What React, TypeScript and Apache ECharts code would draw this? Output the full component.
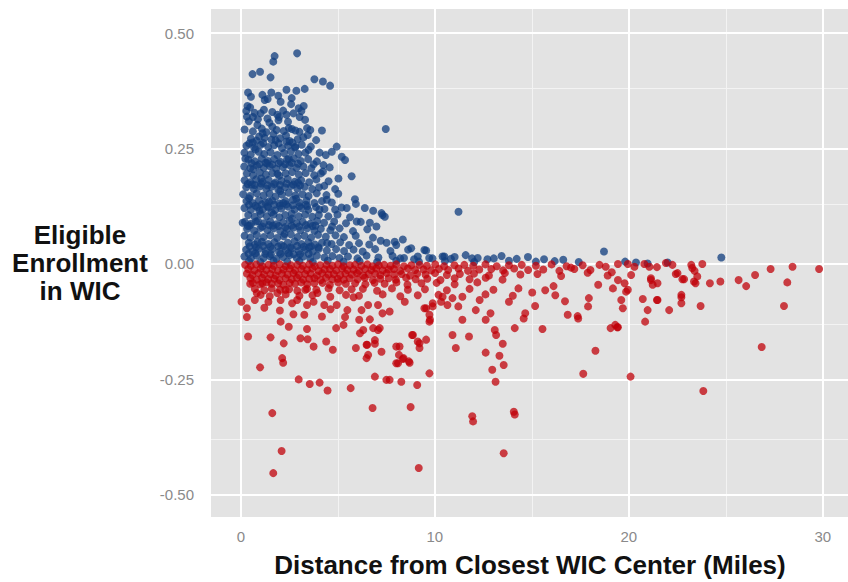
import React, { useEffect, useRef } from "react";
import * as echarts from "echarts";

const xTicks = [0, 10, 20, 30];
const xMinor = [5, 15, 25];
const yTicks = [-0.5, -0.25, 0, 0.25, 0.5];
const yMinor = [-0.375, -0.125, 0.125, 0.375];
const xTitle = "Distance from Closest WIC Center (Miles)";
const yTitle = "Eligible\nEnrollment\nin WIC";

const blueSparse: [number, number][] = [
  [2.90,0.456],[1.74,0.450],[1.67,0.438],[0.60,0.411],[0.99,0.416],[1.53,0.404],[3.79,0.400],[4.23,0.395],[4.60,0.386],
  [0.37,0.371],[2.35,0.377],[2.86,0.375],[3.29,0.379],[1.11,0.366],[1.57,0.371],[1.23,0.355],[0.34,0.342],[0.48,0.339],
  [2.05,0.351],[2.59,0.346],[2.98,0.337],[3.24,0.342],[0.31,0.319],[1.02,0.326],[1.37,0.315],[1.88,0.323],[2.35,0.323],
  [3.03,0.318],[7.47,0.292],[4.18,0.289],[3.41,0.294],[3.45,0.279],[0.85,0.301],[1.62,0.297],[2.47,0.294],[2.81,0.289],
  [0.43,0.261],[0.94,0.276],[1.79,0.268],[2.35,0.265],[2.81,0.254],[4.94,0.254],[4.69,0.243],[4.06,0.241],[3.49,0.247],
  [5.20,0.232],[5.37,0.225],[3.75,0.216],[4.26,0.214],[4.23,0.200],[5.71,0.190],[5.03,0.185],[4.30,0.169],[4.86,0.162],
  [4.43,0.139],[5.88,0.140],[5.93,0.130],[4.86,0.118],[5.46,0.121],[6.39,0.121],[6.82,0.115],[7.30,0.106],[11.22,0.113],
  [5.97,0.092],[6.65,0.089],[6.99,0.081],[7.21,0.050],[7.93,0.048],[8.35,0.053],[8.78,0.034],[9.55,0.029],[10.49,0.016],
  [11.59,0.019],[13.04,0.012],[0.09,0.089],[7.25,0.110],[7.42,0.102],[8.01,0.041],[9.46,0.030],[10.40,0.016],[13.44,0.017],
  [14.80,0.015],[16.62,0.009],[18.72,0.027],[24.77,0.014],[22.0,0.003],[20.97,0.001],[20.37,0.003],
  [0.64,0.205],[1.05,0.185],[1.45,0.135],[0.95,0.115],[1.65,0.083],[2.25,0.065],[0.36,0.082],[0.86,0.048],[1.26,0.022],
  [1.92,0.038],[2.72,0.021],[3.51,0.036],[0.57,0.172],[1.35,0.218],[2.03,0.158],[2.95,0.176],[3.42,0.125],[2.63,0.098],
  [3.85,0.083],[4.45,0.045],[0.23,0.228],[0.75,0.248],[1.12,0.283],[1.68,0.281],[2.33,0.278],[1.97,0.318],[0.62,0.318],
  [2.47,0.228],[4.05,0.118],[4.70,0.081],[0.42,0.142],[1.58,0.112],[2.18,0.132],[0.78,0.092],[1.89,0.195],[2.86,0.141]
];

const blueFill: [number, number][] = [
  [0.55,0.218],[0.95,0.216],[1.28,0.219],[1.62,0.215],[1.95,0.218],[2.28,0.216],[2.62,0.219],[2.95,0.217],
  [0.35,0.173],[0.72,0.171],[1.05,0.174],[1.38,0.170],[1.72,0.173],[2.02,0.171],[2.36,0.174],[2.70,0.172],[3.05,0.170],
  [0.42,0.128],[0.75,0.126],[1.08,0.129],[1.38,0.125],[1.72,0.128],[2.02,0.126],[2.35,0.129],[2.68,0.127],[3.02,0.125],[3.35,0.128],
  [0.45,0.083],[1.10,0.081],[1.45,0.084],[1.95,0.082],[2.30,0.080],[2.62,0.083],[3.00,0.081],[3.35,0.084],[3.70,0.082],
  [0.45,0.038],[0.78,0.036],[1.15,0.039],[1.52,0.037],[2.20,0.038],[2.55,0.036],[2.90,0.039],[3.25,0.037],[3.62,0.038],[4.00,0.036],
  [0.62,0.263],[1.15,0.262],[1.95,0.261],[2.65,0.263],
  [0.40,0.022],[0.75,0.023],[1.55,0.021],[2.05,0.022],[2.45,0.023],[3.05,0.021],[3.50,0.022]
];

const blueCore: [number, number][] = [
  [0.52,0.362],[1.38,0.357],[1.93,0.364],[2.62,0.359],
  [0.28,0.331],[0.71,0.327],[1.19,0.334],[1.62,0.329],[2.18,0.332],[2.71,0.326],[3.12,0.331],
  [0.41,0.309],[0.88,0.313],[1.47,0.306],[1.94,0.311],[2.43,0.308],[3.31,0.312],
  [0.19,0.291],[0.62,0.287],[1.08,0.293],[1.31,0.285],[1.84,0.290],[2.21,0.288],[2.63,0.292],[3.02,0.286],[3.58,0.290],
  [0.52,0.271],[0.81,0.267],[1.22,0.273],[1.58,0.269],[2.02,0.272],[2.51,0.266],[2.93,0.270],[3.22,0.274],[3.88,0.268],
  [0.29,0.256],[0.68,0.252],[1.03,0.258],[1.41,0.253],[1.72,0.257],[2.12,0.251],[2.44,0.256],[2.79,0.252],[3.14,0.258],[3.61,0.254],
  [0.18,0.241],[0.51,0.237],[0.92,0.243],[1.21,0.238],[1.53,0.242],[1.88,0.236],[2.23,0.240],[2.58,0.244],[2.97,0.238],[3.32,0.241],[4.38,0.236],
  [0.38,0.226],[0.72,0.222],[1.07,0.228],[1.39,0.223],[1.71,0.227],[2.04,0.221],[2.38,0.226],[2.73,0.229],[3.09,0.223],[3.47,0.227],[3.92,0.222],
  [0.17,0.211],[0.49,0.207],[0.83,0.213],[1.18,0.208],[1.49,0.212],[1.82,0.206],[2.17,0.210],[2.51,0.214],[2.86,0.208],[3.22,0.211],[3.63,0.207],[4.58,0.209],
  [0.31,0.196],[0.63,0.192],[0.98,0.198],[1.29,0.193],[1.62,0.197],[1.97,0.191],[2.31,0.196],[2.64,0.199],[2.99,0.193],[3.34,0.197],[3.78,0.192],[4.12,0.196],
  [0.19,0.181],[0.48,0.177],[0.79,0.183],[1.12,0.178],[1.43,0.182],[1.77,0.176],[2.09,0.180],[2.42,0.184],[2.78,0.178],[3.11,0.181],[3.52,0.177],[3.89,0.183],[4.52,0.179],
  [0.28,0.166],[0.67,0.162],[0.99,0.168],[1.31,0.163],[1.58,0.167],[1.93,0.161],[2.27,0.166],[2.59,0.169],[2.91,0.163],[3.29,0.167],[3.68,0.162],[4.03,0.166],
  [0.12,0.151],[0.47,0.147],[0.82,0.153],[1.17,0.148],[1.48,0.152],[1.79,0.146],[2.12,0.150],[2.47,0.154],[2.81,0.148],[3.18,0.151],[3.49,0.147],[3.91,0.153],[4.41,0.149],[5.02,0.152],
  [0.29,0.136],[0.61,0.132],[0.93,0.138],[1.27,0.133],[1.62,0.137],[1.98,0.131],[2.31,0.136],[2.68,0.139],[3.01,0.133],[3.38,0.137],[3.79,0.132],[4.18,0.136],[4.69,0.133],
  [0.18,0.121],[0.52,0.117],[0.84,0.123],[1.13,0.118],[1.42,0.122],[1.77,0.116],[2.08,0.120],[2.43,0.124],[2.77,0.118],[3.12,0.121],[3.48,0.117],[3.87,0.123],[4.31,0.119],[5.19,0.122],
  [0.38,0.106],[0.71,0.102],[1.02,0.108],[1.33,0.103],[1.68,0.107],[1.99,0.101],[2.29,0.106],[2.62,0.109],[2.98,0.103],[3.31,0.107],[3.68,0.102],[4.02,0.106],[4.51,0.103],[4.98,0.107],[5.63,0.101],
  [0.21,0.091],[0.53,0.087],[0.88,0.093],[1.19,0.088],[1.51,0.092],[1.83,0.086],[2.17,0.090],[2.52,0.094],[2.88,0.088],[3.19,0.091],[3.58,0.087],[3.93,0.093],[4.29,0.089],[4.81,0.092],[5.42,0.088],[6.18,0.091],
  [0.32,0.076],[0.68,0.072],[1.01,0.078],[1.37,0.073],[1.69,0.077],[2.03,0.071],[2.38,0.076],[2.71,0.079],[3.07,0.073],[3.42,0.077],[3.79,0.072],[4.12,0.076],[4.61,0.073],[5.09,0.077],[5.78,0.071],[6.52,0.075],
  [0.19,0.061],[0.49,0.057],[0.82,0.063],[1.18,0.058],[1.52,0.062],[1.87,0.056],[2.21,0.060],[2.58,0.064],[2.92,0.058],[3.28,0.061],[3.62,0.057],[3.98,0.063],[4.38,0.059],[4.88,0.062],[5.31,0.058],[5.92,0.061],[6.81,0.057],
  [0.41,0.046],[0.72,0.042],[1.08,0.048],[1.41,0.043],[1.73,0.047],[2.08,0.041],[2.42,0.046],[2.77,0.049],[3.12,0.043],[3.48,0.047],[3.82,0.042],[4.18,0.046],[4.68,0.043],[5.12,0.047],[5.58,0.041],[6.09,0.045],[6.62,0.042],[7.51,0.046],
  [0.27,0.031],[0.61,0.027],[0.93,0.033],[1.28,0.028],[1.62,0.032],[1.97,0.026],[2.32,0.030],[2.63,0.034],[2.98,0.028],[3.33,0.031],[3.71,0.027],[4.02,0.033],[4.43,0.029],[4.91,0.032],[5.32,0.028],[5.81,0.031],[6.28,0.027],[6.92,0.032],[7.71,0.028],[8.62,0.031],
  [0.18,0.016],[0.52,0.012],[0.81,0.018],[1.17,0.013],[1.49,0.017],[1.83,0.011],[2.18,0.015],[2.52,0.019],[2.88,0.013],[3.21,0.016],[3.58,0.012],[3.92,0.018],[4.31,0.014],[4.72,0.017],[5.08,0.013],[5.52,0.016],[6.01,0.012],[6.48,0.018],[7.09,0.014],[7.82,0.017],[8.41,0.013],[9.12,0.016],[9.88,0.012],[11.02,0.015],[12.21,0.013],
  [0.42,0.006],[1.01,0.004],[1.68,0.007],[2.39,0.005],[3.02,0.006],[3.71,0.004],[4.48,0.007],[5.29,0.005],[6.12,0.006],[7.02,0.004],[8.01,0.007],[9.18,0.005],[10.52,0.006],[12.03,0.004],[13.82,0.007],[15.21,0.005],[16.18,0.006],[17.42,0.004],[19.81,0.005],
  [8.21,0.012],[8.93,0.010],[9.71,0.013],[10.83,0.011],[11.92,0.012],[12.71,0.010],[14.22,0.011],[15.63,0.010]
];

const redBand: [number, number][] = [
  [0.22,-0.002],[0.51,-0.004],[0.79,-0.001],[1.11,-0.005],[1.42,-0.002],[1.69,-0.004],[2.01,-0.001],[2.31,-0.005],[2.58,-0.003],[2.91,-0.002],
  [3.19,-0.004],[3.52,-0.001],[3.81,-0.005],[4.09,-0.003],[4.41,-0.002],[4.72,-0.004],[5.01,-0.001],[5.29,-0.005],[5.62,-0.003],[5.89,-0.002],
  [6.21,-0.004],[6.52,-0.001],[6.79,-0.005],[7.11,-0.003],[7.39,-0.002],[7.72,-0.004],[8.01,-0.001],[8.41,-0.005],[8.79,-0.003],[9.21,-0.002],
  [9.59,-0.004],[10.02,-0.001],[10.48,-0.005],[11.01,-0.003],[11.52,-0.002],[11.98,-0.004],[12.61,-0.001],[13.19,-0.005],[13.82,-0.003],[14.48,-0.002],
  [15.21,-0.004],[16.02,-0.001],[16.79,-0.005],[17.62,-0.003],[18.49,-0.002],
  [0.38,-0.011],[0.69,-0.014],[1.02,-0.010],[1.31,-0.013],[1.62,-0.011],[1.91,-0.015],[2.19,-0.012],[2.52,-0.010],[2.79,-0.014],[3.12,-0.011],
  [3.41,-0.013],[3.69,-0.010],[4.01,-0.015],[4.32,-0.012],[4.59,-0.011],[4.91,-0.014],[5.22,-0.010],[5.49,-0.013],[5.81,-0.012],[6.09,-0.015],
  [6.41,-0.011],[6.72,-0.013],[6.98,-0.010],[7.31,-0.014],[7.62,-0.012],[7.89,-0.011],[8.22,-0.015],[8.61,-0.010],[8.98,-0.013],[9.42,-0.012],
  [9.81,-0.014],[10.21,-0.011],[10.69,-0.013],[11.22,-0.010],[11.71,-0.015],[12.29,-0.012],[12.91,-0.011],[13.52,-0.014],[14.09,-0.010],[14.81,-0.013],
  [15.59,-0.012],[16.42,-0.015],[17.19,-0.011],[18.02,-0.013],
  [0.31,-0.021],[0.59,-0.024],[0.91,-0.020],[1.19,-0.023],[1.52,-0.022],[1.79,-0.025],[2.12,-0.021],[2.41,-0.023],[2.71,-0.020],[2.99,-0.024],
  [3.31,-0.022],[3.59,-0.021],[3.92,-0.025],[4.19,-0.020],[4.52,-0.023],[4.79,-0.022],[5.12,-0.024],[5.39,-0.021],[5.72,-0.023],[5.99,-0.020],
  [6.31,-0.025],[6.59,-0.022],[6.92,-0.021],[7.19,-0.024],[7.52,-0.020],[7.91,-0.023],[8.29,-0.022],[8.72,-0.025],[9.09,-0.021],[9.52,-0.023],
  [10.01,-0.020],[10.62,-0.024],[11.29,-0.022],[12.02,-0.021],[12.79,-0.025],[13.61,-0.020],[14.41,-0.023],[15.29,-0.022],
  [0.49,-0.031],[0.82,-0.034],[1.09,-0.030],[1.41,-0.033],[1.72,-0.032],[1.99,-0.035],[2.31,-0.031],[2.62,-0.033],[2.89,-0.030],[3.21,-0.034],
  [3.52,-0.032],[3.79,-0.031],[4.12,-0.035],[4.39,-0.030],[4.71,-0.033],[4.99,-0.032],[5.31,-0.034],[5.61,-0.031],[6.02,-0.033],[6.39,-0.030],
  [6.81,-0.035],[7.19,-0.032],[7.62,-0.031],[7.99,-0.034],[8.52,-0.030],[9.01,-0.033],[9.61,-0.032],[10.29,-0.035],[11.02,-0.031],[11.79,-0.033],
  [12.62,-0.030],[13.49,-0.034],
  [0.62,-0.041],[0.99,-0.044],[1.32,-0.040],[1.59,-0.043],[1.92,-0.042],[2.19,-0.045],[2.52,-0.041],[2.79,-0.043],[3.11,-0.040],[3.42,-0.044],
  [3.79,-0.042],[4.21,-0.041],[4.59,-0.045],[5.02,-0.040],[5.41,-0.043],[5.89,-0.042],[6.42,-0.044],[6.89,-0.041],[7.41,-0.043],[8.02,-0.040],
  [8.59,-0.045],[9.31,-0.042],[10.09,-0.041],[11.02,-0.044],[12.19,-0.040],
  [0.72,-0.054],[1.21,-0.057],[1.59,-0.053],[2.02,-0.056],[2.49,-0.055],[2.91,-0.058],[3.41,-0.054],[3.89,-0.056],[4.52,-0.053],[5.09,-0.057],
  [5.71,-0.055],[6.29,-0.054],[7.02,-0.058],[7.79,-0.053],[8.61,-0.056],[9.49,-0.055],[10.62,-0.057],[11.79,-0.054],[13.02,-0.056],[14.31,-0.053],[15.69,-0.057],
  [1.02,-0.067],[1.49,-0.070],[2.31,-0.066],[3.02,-0.069],[3.69,-0.068],[4.61,-0.071],[5.42,-0.067],[6.09,-0.069],[7.31,-0.066],[8.22,-0.070],
  [9.12,-0.068],[10.19,-0.067],[11.42,-0.071],[12.61,-0.066],[14.02,-0.069],[16.21,-0.068],
  [19.44,0.000],[19.95,0.000],[20.29,-0.006],[20.80,0.000],[21.06,-0.006],[21.45,-0.007],[21.91,0.002],[22.25,-0.002],[22.51,-0.020],[22.76,-0.033],
  [23.22,-0.002],[23.79,0.000],[23.39,-0.015],[23.53,-0.027],[23.44,-0.042],[21.14,-0.031],[21.23,-0.045],[20.12,-0.024],[19.78,-0.042],[19.86,-0.060],
  [19.61,-0.078],[19.69,-0.096],[19.44,-0.137],[18.81,-0.006],[19.12,-0.018],[17.02,-0.008],[17.88,-0.019],[16.51,-0.026]
];

const redSparse: [number, number][] = [
  [0.03,-0.082],[0.31,-0.096],[0.31,-0.115],[0.37,-0.157],[0.48,-0.043],[0.82,-0.063],[1.11,-0.042],[0.99,-0.224],[1.53,-0.159],[1.62,-0.323],
  [2.10,-0.405],[1.67,-0.453],[2.13,-0.204],[2.18,-0.214],[2.05,-0.125],[2.01,-0.101],[2.47,-0.136],[2.21,-0.172],[2.98,-0.250],[3.55,-0.260],
  [4.06,-0.257],[4.47,-0.274],[5.66,-0.269],[3.07,-0.161],[3.44,-0.163],[3.75,-0.179],[4.40,-0.168],[4.74,-0.186],[3.27,-0.110],[3.41,-0.141],
  [4.18,-0.114],[4.91,-0.139],[5.29,-0.132],[5.37,-0.115],[6.79,-0.312],[6.91,-0.244],[7.50,-0.251],[7.67,-0.251],[8.27,-0.255],[9.09,-0.262],
  [8.75,-0.310],[9.17,-0.442],[9.72,-0.237],[5.93,-0.182],[6.48,-0.204],[6.56,-0.197],[7.25,-0.190],[8.18,-0.179],[8.15,-0.197],[8.39,-0.204],
  [8.66,-0.211],[8.10,-0.215],[8.87,-0.154],[9.21,-0.172],[9.21,-0.182],[9.55,-0.164],[6.10,-0.121],[6.31,-0.143],[6.65,-0.120],[6.82,-0.139],
  [7.16,-0.139],[6.91,-0.173],[6.51,-0.175],[11.93,-0.330],[11.97,-0.341],[11.08,-0.182],[10.91,-0.154],[11.42,-0.121],[11.76,-0.157],[12.11,-0.100],
  [12.62,-0.121],[12.96,-0.229],[13.13,-0.255],[12.62,-0.192],[9.75,-0.121],[9.55,-0.096],[9.89,-0.085],[10.32,-0.082],[10.91,-0.074],
  [13.33,-0.199],[13.55,-0.219],[13.50,-0.173],[13.09,-0.143],[13.16,-0.154],[12.87,-0.107],[14.12,-0.139],[14.58,-0.118],[14.66,-0.107],
  [15.55,-0.141],[15.17,-0.091],[16.85,-0.110],[17.39,-0.118],[17.36,-0.113],[18.28,-0.188],[17.65,-0.238],[20.09,-0.244],[23.84,-0.275],
  [19.06,-0.139],[19.30,-0.132],[19.40,-0.137],[20.84,-0.125],[20.97,-0.100],[21.45,-0.078],[22.08,-0.100],[22.71,-0.072],[22.71,-0.085],
  [23.70,-0.091],[28.0,-0.091],[26.85,-0.180],[23.36,-0.038],[24.18,-0.042],[24.72,-0.038],[25.66,-0.035],[26.05,-0.048],[26.51,-0.024],
  [27.31,-0.011],[28.44,-0.006],[28.17,-0.040],[29.81,-0.011],[17.90,-0.092],[17.94,-0.074],[19.18,-0.053],[19.44,-0.035],[19.95,-0.056],
  [20.72,-0.076],[21.14,-0.035],[21.48,-0.042],[21.48,-0.078],[22.71,-0.067],[22.85,-0.033],[22.42,-0.022],[23.27,-0.009],[14.07,-0.320],
  [14.12,-0.326],[13.55,-0.410],
  [7.30,-0.107],[7.67,-0.103],[7.07,-0.089],[6.56,-0.089],[6.22,-0.100],[5.49,-0.100],[4.94,-0.089],[4.30,-0.089],[3.75,-0.082],[3.41,-0.089],
  [2.90,-0.078],[2.64,-0.085],[2.05,-0.078],[1.88,-0.063],[2.30,-0.056],[3.32,-0.056],[3.95,-0.063],[9.46,-0.096],[9.72,-0.110],[9.72,-0.125],
  [9.89,-0.092],[10.40,-0.071],[10.65,-0.089],[6.14,-0.150],[6.48,-0.175],[7.07,-0.143],[6.91,-0.165],[8.01,-0.179],[8.83,-0.154],[9.12,-0.168],
  [8.01,-0.215],[8.35,-0.206],[8.70,-0.214],[1.42,-0.082],[0.72,-0.078],[1.21,-0.095],[2.71,-0.109],[4.62,-0.098],[5.81,-0.072],[8.45,-0.082],
  [11.21,-0.092],[12.31,-0.078],[13.82,-0.082],[15.02,-0.062],[16.12,-0.048],[16.71,-0.081],[18.42,-0.045],[18.91,-0.025]
];

export default function App() {
  const ref = useRef<HTMLDivElement>(null);
  useEffect(() => {
    if (!ref.current) return;
    const chart = echarts.init(ref.current, null, { renderer: "svg" });
    const font = '"Liberation Sans", Arial, sans-serif';
    const gridLine = (v: number, axis: "x" | "y") => (axis === "x" ? { xAxis: v } : { yAxis: v });
    chart.setOption({
      animation: false,
      backgroundColor: "#ffffff",
      grid: {
        left: 211, right: 0, top: 9, bottom: 65,
        show: true, backgroundColor: "#E3E3E3", borderWidth: 0,
      },
      xAxis: {
        type: "value", min: -1.54, max: 31.3,
        axisLine: { show: false },
        splitLine: { show: false },
        axisTick: { show: true, customValues: xTicks, length: 6, inside: false, lineStyle: { color: "#8a8a8a", width: 1 } },
        axisLabel: { customValues: xTicks, color: "#8a8a8a", fontSize: 15, fontFamily: font, margin: 12, formatter: (v: number) => String(v) },
      },
      yAxis: {
        type: "value", min: -0.548, max: 0.552,
        axisLine: { show: false },
        splitLine: { show: false },
        axisTick: { show: true, customValues: yTicks, length: 6, lineStyle: { color: "#8a8a8a", width: 1 } },
        axisLabel: { customValues: yTicks, color: "#8a8a8a", fontSize: 15, fontFamily: font, margin: 17, formatter: (v: number) => v.toFixed(2) },
      },
      graphic: [
        {
          type: "text", x: 80, y: 263,
          style: { text: yTitle, fill: "#111", font: `bold 26px ${font}`, align: "center", verticalAlign: "middle", lineHeight: 28 },
        },
        {
          type: "text", x: 530, y: 565,
          style: { text: xTitle, fill: "#111", font: `bold 26px ${font}`, align: "center", verticalAlign: "middle" },
        },
      ],
      series: [
        {
          type: "scatter", data: [], z: 1, silent: true,
          markLine: {
            z: 1, silent: true, symbol: ["none", "none"], label: { show: false }, animation: false,
            lineStyle: { color: "#F3F3F3", width: 1, type: "solid" },
            data: [...xMinor.map((v) => gridLine(v, "x")), ...yMinor.map((v) => gridLine(v, "y"))],
          },
        },
        {
          type: "scatter", data: [], z: 1, silent: true,
          markLine: {
            z: 1, silent: true, symbol: ["none", "none"], label: { show: false }, animation: false,
            lineStyle: { color: "#FFFFFF", width: 2, type: "solid" },
            data: [...xTicks.map((v) => gridLine(v, "x")), ...yTicks.map((v) => gridLine(v, "y"))],
          },
        },
        {
          type: "scatter", z: 3, symbolSize: 8,
          data: [...blueCore, ...blueFill, ...blueSparse],
          itemStyle: { color: "#133F80", opacity: 0.76 },
        },
        {
          type: "scatter", z: 4, symbolSize: 8,
          data: [...redBand, ...redSparse],
          itemStyle: { color: "#C00008", opacity: 0.74 },
        },
      ],
    });
    return () => chart.dispose();
  }, []);
  return <div ref={ref} style={{ position: "absolute", left: 0, top: 0, width: 848, height: 582 }} />;
}
